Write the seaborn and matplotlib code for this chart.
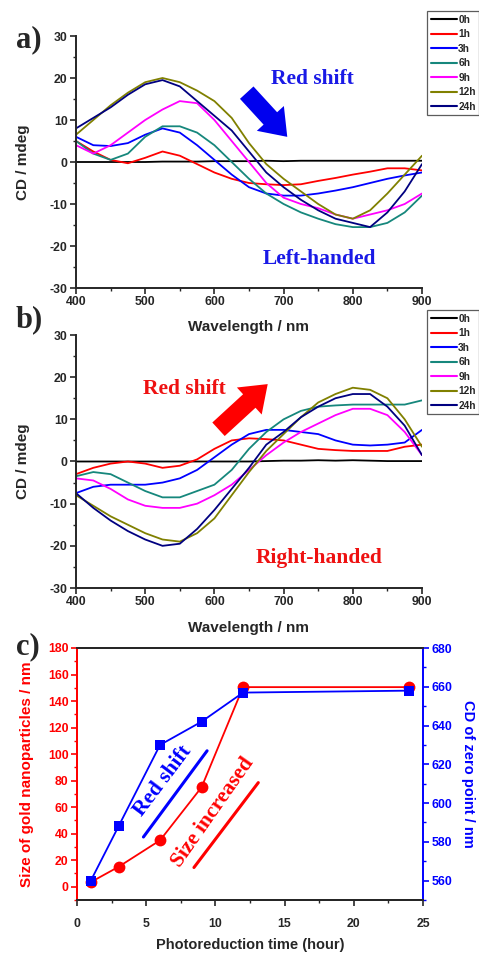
import numpy as np
import pandas as pd
import matplotlib
matplotlib.use("Agg")
import matplotlib.pyplot as plt
from matplotlib.lines import Line2D
from matplotlib.ticker import MultipleLocator
import seaborn as sns

# ---- data ----
wavelength = [400, 425, 450, 475, 500, 525, 550, 575, 600, 625, 650, 675,
              700, 725, 750, 775, 800, 825, 850, 875, 900]
times = ["0h", "1h", "3h", "6h", "9h", "12h", "24h"]
colors = ["#000000", "#ff0000", "#0000ff", "#16877c", "#ff00ff", "#808000", "#000080"]

cd_left = {
    "0h": [0.0, 0.0, 0.0, 0.0, 0.0, 0.1, 0.1, 0.1, 0.2, 0.2, 0.2, 0.3,
           0.2, 0.3, 0.3, 0.3, 0.3, 0.3, 0.3, 0.3, 0.3],
    "1h": [5.0, 2.5, 0.5, -0.3, 1.0, 2.5, 1.5, -0.5, -2.5, -4.0, -5.0, -5.3,
           -5.5, -5.3, -4.5, -3.8, -3.0, -2.3, -1.5, -1.5, -2.0],
    "3h": [6.0, 4.0, 3.8, 4.5, 6.5, 8.0, 7.0, 4.0, 0.5, -3.0, -6.0, -7.5,
           -8.0, -8.0, -7.5, -6.8, -6.0, -5.0, -4.0, -3.2, -2.5],
    "6h": [5.0, 2.0, 0.5, 2.0, 6.0, 8.5, 8.5, 7.0, 4.0, 0.0, -4.0, -7.5,
           -10.0, -12.0, -13.5, -14.8, -15.5, -15.5, -14.5, -12.0, -8.0],
    "9h": [4.0, 2.0, 4.0, 7.0, 10.0, 12.5, 14.5, 14.0, 10.0, 5.0, 0.0, -5.0,
           -8.5, -10.0, -11.0, -12.5, -13.5, -12.5, -11.5, -10.0, -7.5],
    "12h": [6.5, 10.0, 13.5, 16.5, 19.0, 20.0, 19.0, 17.0, 14.5, 10.5, 4.5, -0.5,
            -4.0, -7.0, -10.0, -12.5, -13.5, -11.5, -7.5, -3.0, 1.5],
    "24h": [8.0, 10.5, 13.0, 16.0, 18.5, 19.5, 18.0, 14.5, 11.0, 7.5, 2.5, -2.5,
            -6.0, -9.0, -11.5, -13.5, -14.5, -15.5, -12.0, -7.0, -0.5],
}

cd_right = {
    "0h": [0.0, 0.0, 0.0, 0.0, 0.0, 0.0, 0.0, 0.0, 0.0, 0.0, 0.0, 0.1,
           0.2, 0.2, 0.3, 0.2, 0.3, 0.2, 0.1, 0.1, 0.1],
    "1h": [-3.0, -1.5, -0.5, 0.0, -0.5, -1.5, -1.0, 0.5, 3.0, 5.0, 5.5, 5.3,
           5.0, 4.0, 3.0, 2.7, 2.5, 2.5, 2.5, 3.5, 4.0],
    "3h": [-7.5, -6.0, -5.5, -5.5, -5.5, -5.0, -4.0, -2.0, 1.0, 4.0, 6.5, 7.5,
           7.5, 7.0, 6.5, 5.0, 4.0, 3.8, 4.0, 4.5, 7.5],
    "6h": [-3.5, -2.5, -3.0, -5.0, -7.0, -8.5, -8.5, -7.0, -5.5, -2.0, 3.0, 7.0,
           10.0, 12.0, 13.0, 13.3, 13.5, 13.5, 13.5, 13.5, 14.5],
    "9h": [-4.0, -4.5, -6.5, -9.0, -10.5, -11.0, -11.0, -10.0, -8.0, -5.5, -2.0, 1.5,
           4.5, 7.0, 9.0, 11.0, 12.5, 12.5, 11.0, 7.0, 1.5],
    "12h": [-8.0, -10.5, -13.0, -15.0, -17.0, -18.5, -19.0, -17.0, -13.5, -8.0, -2.5, 2.5,
            6.5, 10.5, 14.0, 16.0, 17.5, 17.0, 15.0, 10.0, 3.5],
    "24h": [-7.5, -11.0, -14.0, -16.5, -18.5, -20.0, -19.5, -16.0, -11.5, -6.5, -1.5, 4.0,
            7.0, 10.5, 13.0, 15.0, 16.0, 16.0, 13.0, 8.5, 1.5],
}

hours = [1, 3, 6, 9, 12, 24]
size_nm = [3.5, 15, 35, 75, 150.5, 150.5]
zero_point_nm = [560, 588, 630, 642, 657, 658]


def long_form(table):
    rows = []
    for t in times:
        for w, v in zip(wavelength, table[t]):
            rows.append({"wavelength": w, "cd": v, "time": t})
    return pd.DataFrame(rows)


sns.set_theme(style="ticks")
plt.rcParams["font.family"] = ["Liberation Sans", "DejaVu Sans"]
plt.rcParams["font.weight"] = "bold"
plt.rcParams["axes.unicode_minus"] = False
plt.rcParams["xtick.major.size"] = 4
plt.rcParams["ytick.major.size"] = 4
plt.rcParams["xtick.minor.size"] = 2.5
plt.rcParams["ytick.minor.size"] = 2.5
plt.rcParams["axes.linewidth"] = 1.4

serif = ["Liberation Serif", "DejaVu Serif"]
palette = dict(zip(times, colors))
TICK_FS = 8.8
LABEL_FS = 11
NOTE_FS = 15.5

fig = plt.figure(figsize=(4.79, 9.55), dpi=100)
W, H = 479, 955


def px_axes(left, top, right, bottom):
    return fig.add_axes([left / W, 1 - bottom / H, (right - left) / W, (bottom - top) / H])


def cd_panel(ax, table, legend_top):
    df = long_form(table)
    sns.lineplot(data=df, x="wavelength", y="cd", hue="time", palette=palette,
                 estimator=None, linewidth=1.3, legend=False, ax=ax)
    ax.set_xlim(400, 900)
    ax.set_ylim(-30, 30)
    ax.xaxis.set_major_locator(MultipleLocator(100))
    ax.xaxis.set_minor_locator(MultipleLocator(50))
    ax.yaxis.set_major_locator(MultipleLocator(10))
    ax.yaxis.set_minor_locator(MultipleLocator(5))
    ax.tick_params(labelsize=TICK_FS, width=1.2, pad=2)
    ax.tick_params(which="minor", width=1.0)
    ax.set_ylabel("CD / mdeg", fontsize=LABEL_FS, fontweight="bold")
    ax.yaxis.set_label_coords(-46 / 346, 0.5)
    ax.set_xlabel("")
    for lab in ax.get_xticklabels() + ax.get_yticklabels():
        lab.set_fontweight("bold")
    sns.despine(ax=ax)
    handles = [Line2D([], [], color=c, lw=1.5) for c in colors]
    leg = fig.legend(handles, times, loc="upper left",
                     bbox_to_anchor=(427 / W, 1 - legend_top / H),
                     fontsize=7.3, frameon=True, fancybox=False, edgecolor="#333333",
                     handlelength=2.6, handletextpad=0.12, labelspacing=0.45,
                     borderpad=0.35, borderaxespad=0)
    leg.get_frame().set_linewidth(0.9)


arrow_style = "simple,head_width=2.2,head_length=1.5,tail_width=1.1"

# ---- panel a ----
ax_a = px_axes(76, 36, 422, 288)
cd_panel(ax_a, cd_left, 11)
ax_a.text(742, 19.8, "Red shift", color="#1a1ae6", fontsize=NOTE_FS, fontweight="bold",
          family=serif, ha="center", va="center")
ax_a.annotate("", xy=(708, 5.5), xytext=(644, 17.0),
              arrowprops=dict(arrowstyle=arrow_style, color="#0000ee", lw=0))
ax_a.text(752, -23, "Left-handed", color="#1a1ae6", fontsize=NOTE_FS, fontweight="bold",
          family=serif, ha="center", va="center")

# ---- panel b ----
ax_b = px_axes(76, 335, 422, 588)
cd_panel(ax_b, cd_right, 310)
ax_b.text(557, 17.2, "Red shift", color="#ee1111", fontsize=NOTE_FS, fontweight="bold",
          family=serif, ha="center", va="center")
ax_b.annotate("", xy=(680, 18.8), xytext=(603, 7.2),
              arrowprops=dict(arrowstyle=arrow_style, color="#ff0000", lw=0))
ax_b.text(752, -23, "Right-handed", color="#ee1111", fontsize=NOTE_FS, fontweight="bold",
          family=serif, ha="center", va="center")
fig.text(249 / W, 1 - 327 / H, "Wavelength / nm", ha="center", va="center",
         fontsize=LABEL_FS, fontweight="bold")
fig.text(249 / W, 1 - 628 / H, "Wavelength / nm", ha="center", va="center",
         fontsize=LABEL_FS, fontweight="bold")

# ---- panel c ----
ax_c = px_axes(77, 648, 423, 900)
ax_r = ax_c.twinx()
growth = pd.DataFrame({"hour": hours, "size": size_nm, "zero": zero_point_nm})
sns.lineplot(data=growth, x="hour", y="size", color="#ff0000", marker="o",
             markersize=8.5, markeredgewidth=0, linewidth=1.3, ax=ax_c)
sns.lineplot(data=growth, x="hour", y="zero", color="#0000ff", marker="s",
             markersize=7.5, markeredgewidth=0, linewidth=1.3, ax=ax_r)
ax_c.set_xlim(0, 25)
ax_c.set_ylim(-10, 180)
ax_r.set_ylim(550, 680)
ax_c.xaxis.set_major_locator(MultipleLocator(5))
ax_c.xaxis.set_minor_locator(MultipleLocator(2.5))
ax_c.yaxis.set_major_locator(MultipleLocator(20))
ax_c.yaxis.set_minor_locator(MultipleLocator(10))
ax_r.yaxis.set_major_locator(MultipleLocator(20))
ax_r.yaxis.set_minor_locator(MultipleLocator(10))
ax_c.tick_params(axis="x", labelsize=TICK_FS, width=1.2, pad=9)
ax_c.tick_params(axis="y", labelsize=TICK_FS, width=1.2, colors="#ff0000", pad=2)
ax_c.tick_params(axis="y", which="minor", colors="#ff0000")
ax_r.tick_params(axis="y", labelsize=TICK_FS, width=1.2, colors="#0000ff", pad=2)
ax_r.tick_params(axis="y", which="minor", colors="#0000ff")
ax_c.spines["left"].set_color("#ff0000")
ax_r.spines["left"].set_color("#ff0000")
ax_r.spines["right"].set_color("#0000ff")
ax_c.spines["right"].set_visible(False)
for lab in ax_c.get_xticklabels() + ax_c.get_yticklabels() + ax_r.get_yticklabels():
    lab.set_fontweight("bold")
ax_c.set_xlabel("")
ax_c.set_ylabel("Size of gold nanoparticles / nm", fontsize=LABEL_FS, fontweight="bold",
                color="#ff0000")
ax_c.yaxis.set_label_coords(-43 / 346, 0.5)
ax_r.set_ylabel("")
fig.text(250 / W, 1 - 945 / H, "Photoreduction time (hour)", ha="center", va="center",
         fontsize=10.5, fontweight="bold")
fig.text(468 / W, 1 - 774 / H, "CD of zero point / nm", ha="center", va="center",
         fontsize=10.5, fontweight="bold", color="#0000ff", rotation=270)
ax_c.plot([4.8, 9.4], [37.5, 102.5], color="#0000ff", lw=2.2)
ax_c.plot([8.45, 13.1], [14.5, 78.5], color="#ff0000", lw=2.2)
ax_c.text(6.2, 80, "Red shift", color="#0000ff", fontsize=NOTE_FS, fontweight="bold",
          family=serif, rotation=53, ha="center", va="center")
ax_c.text(9.8, 56, "Size increased", color="#ff0000", fontsize=NOTE_FS, fontweight="bold",
          family=serif, rotation=55, ha="center", va="center")

# panel letters
for y, s in [(40, "a)"), (320, "b)"), (647, "c)")]:
    fig.text(16 / W, 1 - y / H, s, fontsize=22, fontweight="bold", family=serif,
             ha="left", va="center")

fig.savefig("out.png", dpi=100)
